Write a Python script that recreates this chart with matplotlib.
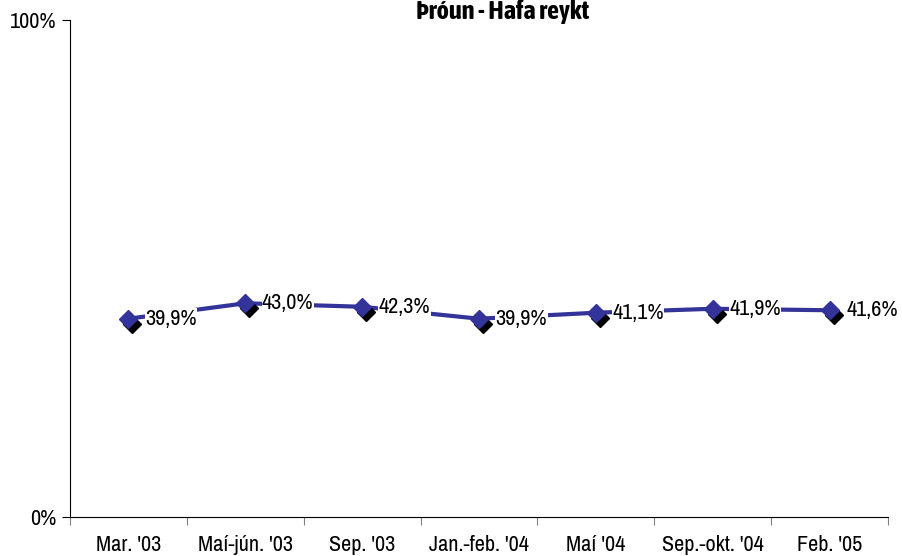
import matplotlib
matplotlib.use("Agg")
import matplotlib.pyplot as plt
import matplotlib.transforms as mtransforms
from matplotlib import font_manager

categories = ["Mar. '03", "Maí-jún. '03", "Sep. '03", "Jan.-feb. '04", "Maí '04", "Sep.-okt. '04", "Feb. '05"]
values = [39.9, 43.0, 42.3, 39.9, 41.1, 41.9, 41.6]
labels = ["39,9%", "43,0%", "42,3%", "39,9%", "41,1%", "41,9%", "41,6%"]
title = "Þróun - Hafa reykt"

avail = {f.name for f in font_manager.fontManager.ttflist}
fam = "Archivo Narrow" if "Archivo Narrow" in avail else "Liberation Sans"
tfam = "Asap Condensed" if "Asap Condensed" in avail else "Liberation Sans"
plt.rcParams['font.family'] = [fam, 'DejaVu Sans']
FS = 16

W, H = 902, 556
fig = plt.figure(figsize=(W/100, H/100), dpi=100)
ax = fig.add_axes([70/W, 1-517/H, (888-70)/W, (517-20)/H])

x = list(range(len(categories)))
ax.plot(x, values, color="#333399", lw=3, zorder=2)
shadow = mtransforms.offset_copy(ax.transData, fig=fig, x=4, y=-5, units='dots')
ax.plot(x, values, ls='none', marker='D', ms=9, color='black', transform=shadow, zorder=3)
ax.plot(x, values, ls='none', marker='D', ms=9, color='#333399', zorder=4)

for xi, v, lab in zip(x, values, labels):
    ax.annotate(lab, (xi, v), xytext=(12, 0), textcoords='offset points',
                ha='left', va='center', fontsize=FS,
                bbox=dict(facecolor='white', edgecolor='none', pad=0.3), zorder=5)

ax.set_xlim(-0.5, len(categories)-0.5)
ax.set_ylim(0, 100)
ax.set_yticks([0, 100])
ax.set_yticklabels(["0%", "100%"], fontsize=FS)
ax.set_xticks([i-0.5 for i in range(len(categories)+1)])
ax.set_xticklabels([])
ax.set_xticks(x, minor=True)
ax.set_xticklabels(categories, minor=True, fontsize=FS)
ax.tick_params(axis='x', which='minor', length=0, pad=13)
ax.tick_params(axis='x', which='major', length=6, direction='out', color='#808080')
ax.tick_params(axis='y', length=6, direction='out', pad=4)
for s in ['top', 'right']:
    ax.spines[s].set_visible(False)
ax.spines['bottom'].set_color('black')

fig.text(503/W, 1-19/H, title, ha='center', va='baseline', fontsize=19, fontweight='bold',
         family=[tfam, 'DejaVu Sans'])

fig.savefig("out.png", dpi=100)
